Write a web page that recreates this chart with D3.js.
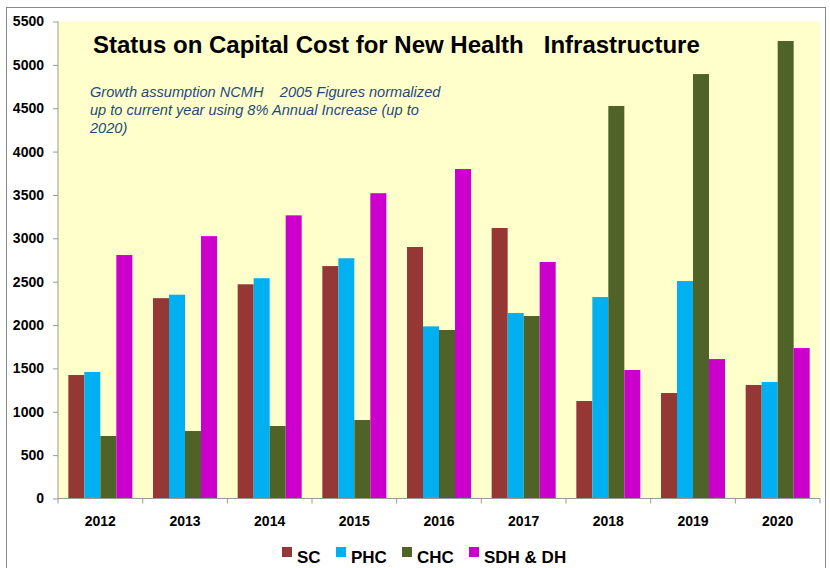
<!DOCTYPE html>
<html>
<head>
<meta charset="utf-8">
<script src="https://cdn.jsdelivr.net/npm/d3@7"></script>
<style>
  body { margin: 0; background: #fff; }
  text { font-family: "Liberation Sans", Arial, sans-serif; }
</style>
</head>
<body>
<script>
(function () {
  'use strict';

  // data
  const years = ["2012", "2013", "2014", "2015", "2016", "2017", "2018", "2019", "2020"];
  const seriesNames = ["SC", "PHC", "CHC", "SDH & DH"];
  const sc  = [1424, 2310, 2470, 2680, 2900, 3119, 1124, 1216, 1309];
  const phc = [1459, 2350, 2540, 2770, 1985, 2139, 2323, 2508, 1343];
  const chc = [721, 778, 836, 905, 1943, 2104, 4526, 4894, 5275];
  const sdh = [2808, 3025, 3265, 3520, 3799, 2727, 1482, 1608, 1735];
  const yTicks = [0, 500, 1000, 1500, 2000, 2500, 3000, 3500, 4000, 4500, 5000, 5500];
  const colors = ["#953735", "#00B0F0", "#4F6228", "#CC00CC"];

  const title = "Status on Capital Cost for New Health   Infrastructure";
  const note = [
    "Growth assumption NCMH    2005 Figures normalized",
    "up to current year using 8% Annual Increase (up to",
    "2020)"
  ];

  const W = 830, H = 568;
  const plot = {left: 58, top: 21.5, right: 820, bottom: 498.5};

  const svg = d3.select("body").append("svg")
    .attr("width", W).attr("height", H);

  // chart border
  svg.append("rect")
    .attr("x", 6.5).attr("y", 7.5)
    .attr("width", 819).attr("height", 600)
    .attr("fill", "#fff").attr("stroke", "#888").attr("stroke-width", 1);

  // plot background
  svg.append("rect")
    .attr("x", plot.left).attr("y", plot.top)
    .attr("width", plot.right - plot.left).attr("height", plot.bottom - plot.top)
    .attr("fill", "#FFFFCC");

  const y = d3.scaleLinear().domain([0, 5500]).range([plot.bottom, plot.top]);
  const x0 = d3.scaleBand().domain(years).range([plot.left, plot.right]);
  const gap = x0.bandwidth() * 0.122;
  const x1 = d3.scaleBand().domain(seriesNames).range([gap, x0.bandwidth() - gap]);

  const rows = years.map(function (yr, i) {
    return {year: yr, values: [sc[i], phc[i], chc[i], sdh[i]]};
  });

  const groups = svg.append("g").selectAll("g")
    .data(rows).enter().append("g")
    .attr("transform", function (d) { return "translate(" + x0(d.year) + ",0)"; });

  groups.selectAll("rect")
    .data(function (d) {
      return d.values.map(function (v, j) { return {name: seriesNames[j], v: v, c: colors[j]}; });
    })
    .enter().append("rect")
    .attr("x", function (d) { return x1(d.name); })
    .attr("y", function (d) { return y(d.v); })
    .attr("width", x1.bandwidth())
    .attr("height", function (d) { return y(0) - y(d.v); })
    .attr("fill", function (d) { return d.c; });

  // y axis
  const yAxis = d3.axisLeft(y).tickValues(yTicks).tickSize(5).tickPadding(9).tickFormat(d3.format("d"));
  const gy = svg.append("g")
    .attr("transform", "translate(" + plot.left + ",0)")
    .call(yAxis);
  gy.select(".domain").attr("stroke", "#999").attr("d", "M0," + plot.top + "V" + plot.bottom);
  gy.selectAll(".tick line").attr("stroke", "#999");
  gy.selectAll(".tick text")
    .attr("font-size", "14px").attr("font-weight", "bold").attr("fill", "#000")
    .attr("font-family", "'Liberation Sans', Arial, sans-serif");

  // x axis
  const gx = svg.append("g")
    .attr("transform", "translate(0," + plot.bottom + ")");
  gx.append("line")
    .attr("x1", plot.left).attr("x2", plot.right)
    .attr("stroke", "#999");
  gx.selectAll("line.tk")
    .data(years.concat(["end"])).enter().append("line")
    .attr("class", "tk")
    .attr("x1", function (d) { return d === "end" ? plot.right : x0(d); })
    .attr("x2", function (d) { return d === "end" ? plot.right : x0(d); })
    .attr("y1", 0).attr("y2", 5)
    .attr("stroke", "#999");
  gx.selectAll("text")
    .data(years).enter().append("text")
    .attr("x", function (d) { return x0(d) + x0.bandwidth() / 2; })
    .attr("y", 27)
    .attr("text-anchor", "middle")
    .attr("font-size", "14px").attr("font-weight", "bold")
    .text(function (d) { return d; });

  // title
  svg.append("text")
    .attr("x", 93).attr("y", 53)
    .attr("font-size", "24px").attr("font-weight", "bold")
    .style("white-space", "pre")
    .text(title);

  // annotation
  svg.append("g").selectAll("text")
    .data(note).enter().append("text")
    .attr("x", 90)
    .attr("y", function (d, i) { return 97 + i * 18; })
    .attr("font-size", "14.6px").attr("font-style", "italic")
    .attr("fill", "#1F497D")
    .style("white-space", "pre")
    .text(function (d) { return d; });

  // legend
  const legendX = [282, 336, 402, 469];
  const lg = svg.append("g").selectAll("g")
    .data(seriesNames).enter().append("g")
    .attr("transform", function (d, i) { return "translate(" + legendX[i] + ",547)"; });
  lg.append("rect")
    .attr("width", 10).attr("height", 10)
    .attr("fill", function (d, i) { return colors[i]; });
  lg.append("text")
    .attr("x", 15).attr("y", 16)
    .attr("font-size", "17px").attr("font-weight", "bold")
    .text(function (d) { return d; });

})();
</script>
</body>
</html>
